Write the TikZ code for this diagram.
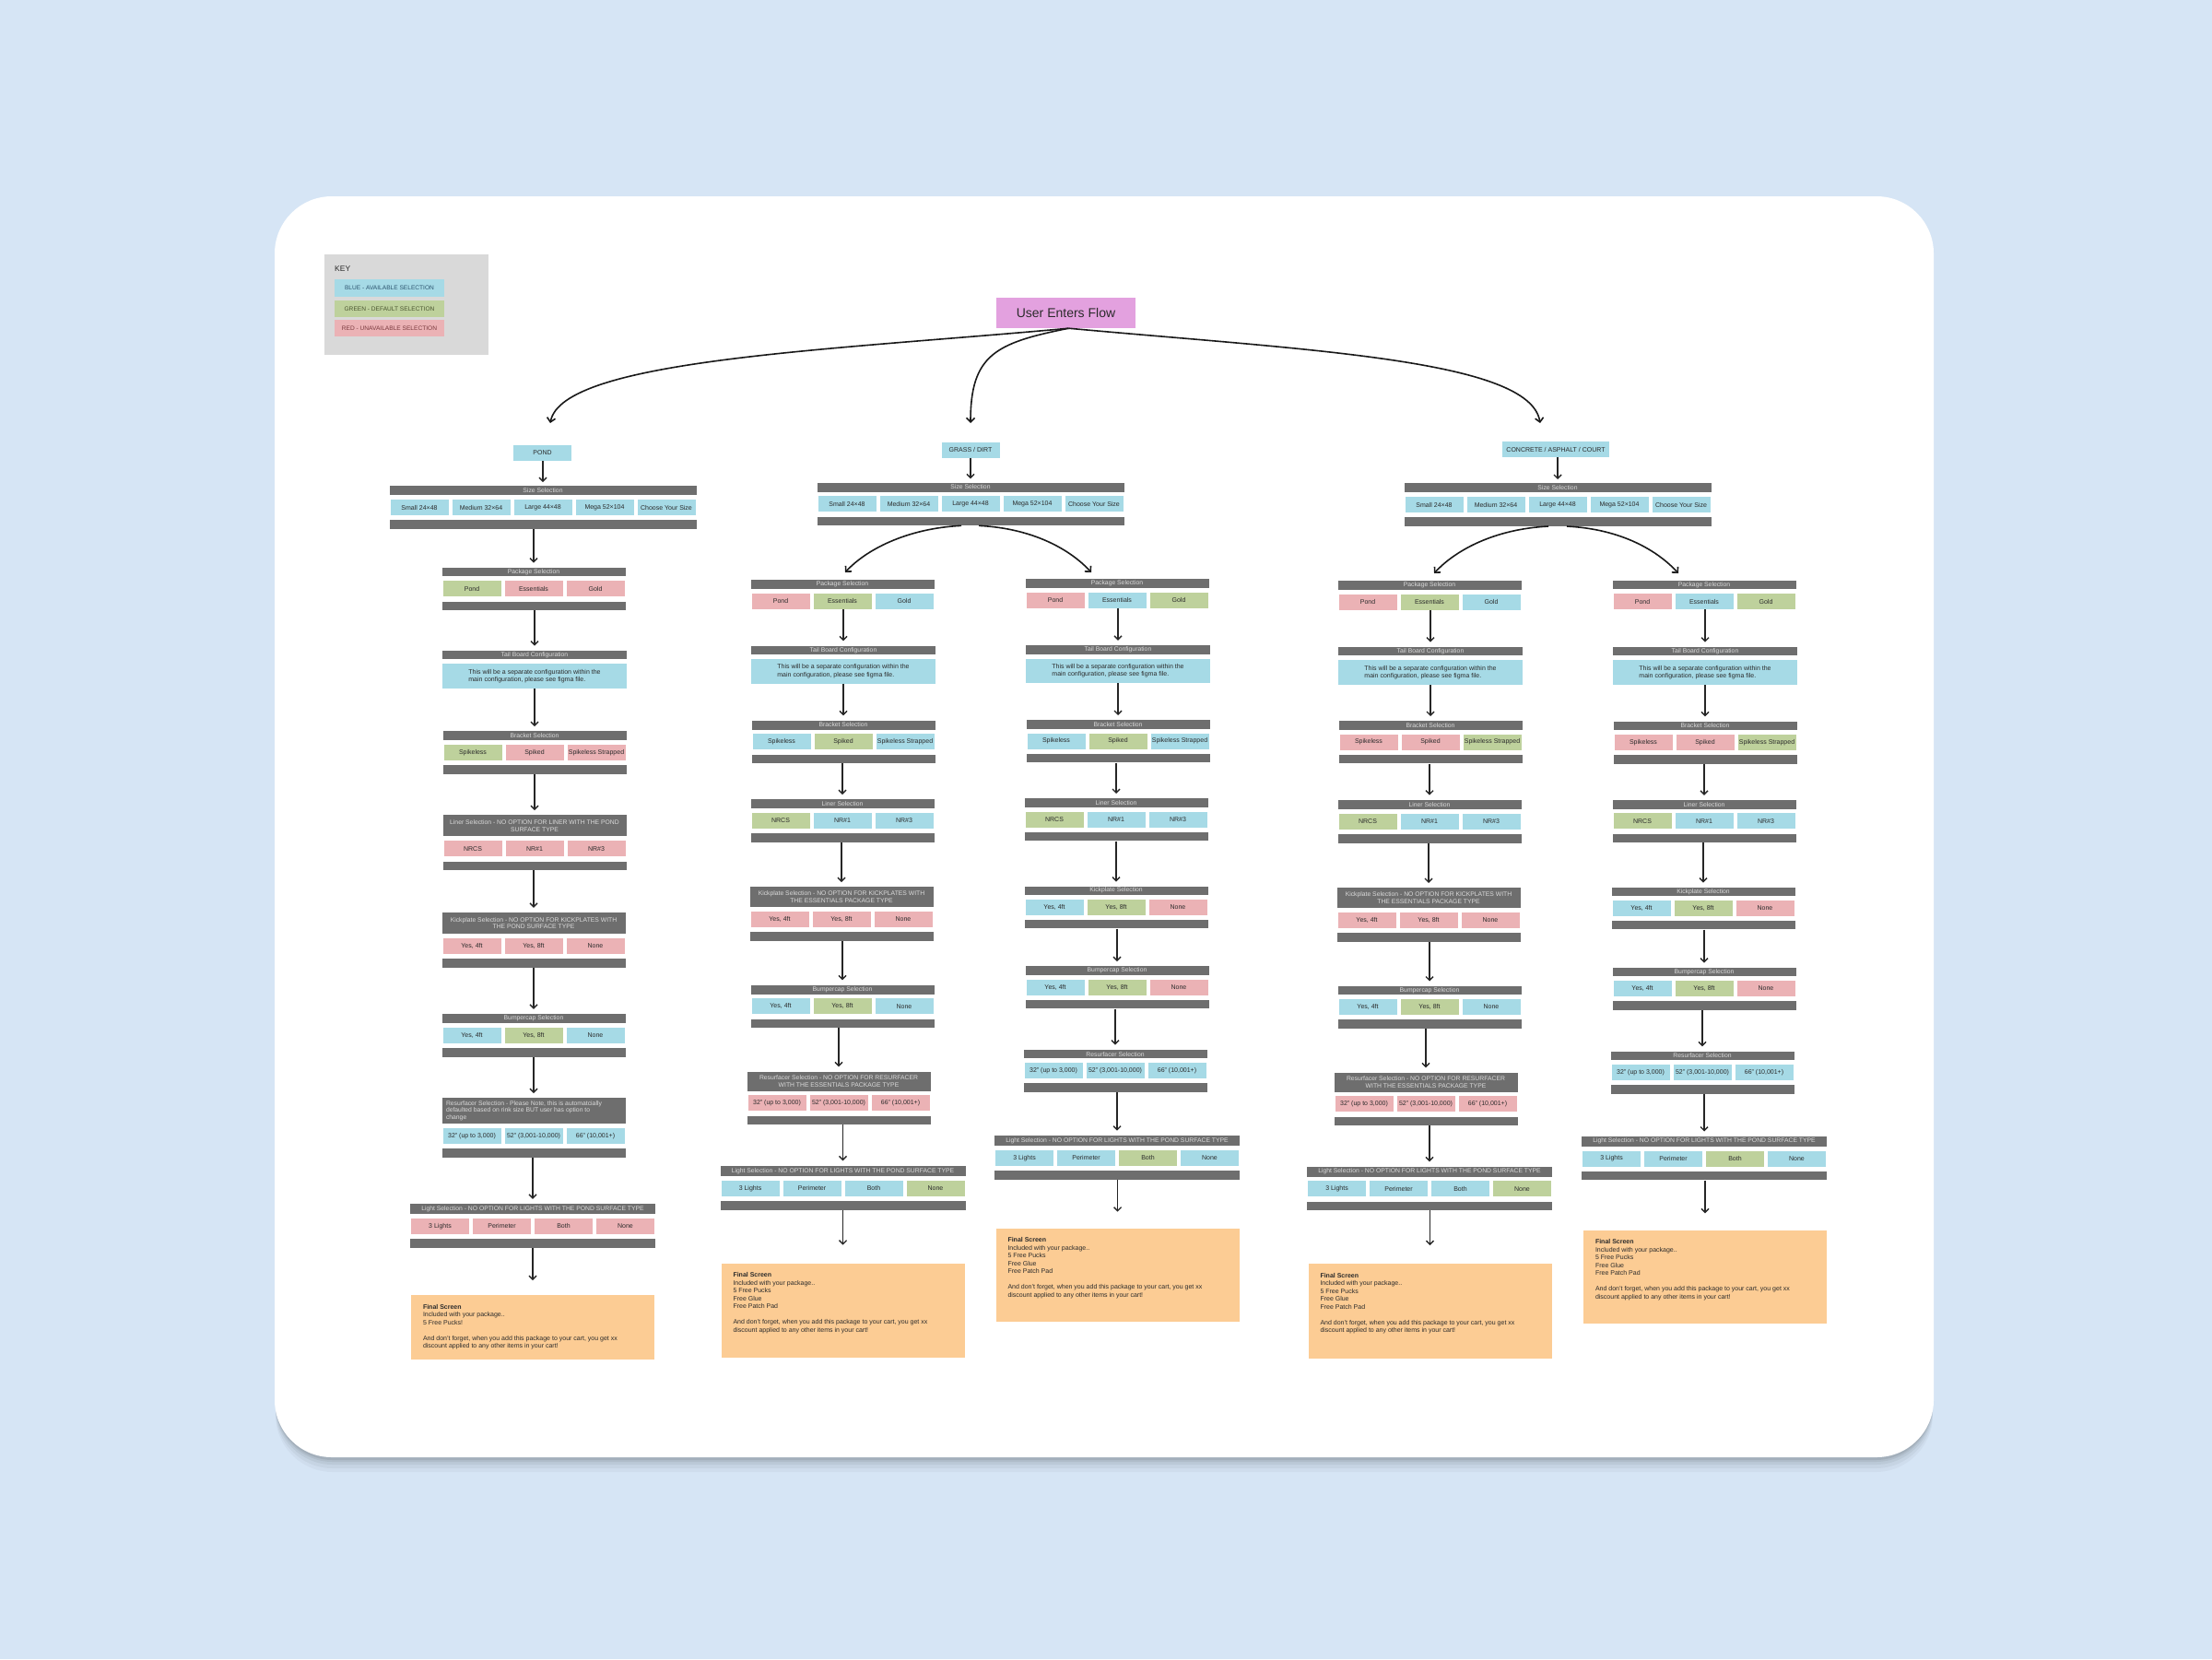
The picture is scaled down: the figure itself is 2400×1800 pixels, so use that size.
\documentclass[tikz,border=0pt]{standalone}
\usepackage{fontspec}
\setmainfont{Liberation Sans}
\usetikzlibrary{arrows.meta,calc}
\definecolor{kBg}{HTML}{D6E5F5}
\definecolor{oB}{HTML}{A6DAE6}
\definecolor{oG}{HTML}{BED19C}
\definecolor{oR}{HTML}{EBB2B5}
\definecolor{kGray}{HTML}{6E6E6E}
\definecolor{kHdrT}{HTML}{DADADA}
\definecolor{kOrange}{HTML}{FCCC94}
\definecolor{kPink}{HTML}{E3A1DF}
\definecolor{kKey}{HTML}{D9D9D9}
\definecolor{kText}{HTML}{2B2B2B}
\definecolor{kBlueT}{HTML}{2E5670}
\definecolor{kGreenT}{HTML}{4A5530}
\definecolor{kRedT}{HTML}{7A3A3E}
\tikzset{
  hdr/.style={fill=kGray, text=kHdrT, font=\fontsize{6.8}{7.8}\selectfont, inner sep=0pt, align=center},
  opt/.style={text=kText, font=\fontsize{7}{8}\selectfont, inner sep=0pt, minimum width=63, minimum height=17},
  bar/.style={fill=kGray, inner sep=0pt, minimum height=9.5},
  tbox/.style={fill=oB, text=kText, font=\fontsize{7}{8.5}\selectfont, inner sep=0pt, align=left, minimum width=200, minimum height=26.5},
  fbox/.style={fill=kOrange, inner sep=0pt, minimum width=264},
  ftext/.style={text=kText, font=\fontsize{7}{8.5}\selectfont, inner sep=0pt, align=left},
  arr/.style={draw=black!85, line width=1.4pt, -{Straight Barb[length=4pt,width=8pt]}},
  carr/.style={draw=black!90, line width=1.6pt, -{Straight Barb[length=4.5pt,width=9pt]}},
  keyopt/.style={inner sep=0pt, minimum width=119, minimum height=18.5, font=\fontsize{6.6}{7.5}\selectfont}
}
\newcommand{\sblk}[8]{%
  \pgfmathsetmacro{\sbW}{#4*67-4}%
  \pgfmathsetmacro{\sbHW}{#4*67-2}%
  \pgfmathsetmacro{\sbOY}{#3+#5+4.8}%
  \pgfmathsetmacro{\sbBY}{\sbOY+17+5.3}%
  \node[hdr, minimum width=\sbHW, minimum height=#5, anchor=north] (#1h) at (#2,#3) {#6};%
  \foreach \sbc/\sbt [count=\sbi] in {#7} {%
    \node[opt, fill=\sbc, anchor=north] (#1\sbi) at ({#2-\sbW/2+31.5+(\sbi-1)*67},\sbOY) {\sbt};%
  }%
  \ifnum#8=1\relax
    \node[bar, minimum width=\sbHW, anchor=north] (#1b) at (#2,\sbBY) {};%
  \fi
}
\newcommand{\tblk}[3]{%
  \node[hdr, minimum width=200, minimum height=9.5, anchor=north] (#1h) at (#2,#3) {Tail Board Configuration};%
  \node[tbox, anchor=north] (#1t) at (#2,#3+14.5) {This will be a separate configuration within the\\main configuration, please see figma file.};%
}
\newcommand{\fblk}[5]{%
  \node[fbox, minimum height=#4, anchor=north] (#1) at (#2,#3) {};%
  \node[ftext, anchor=north west] (#1t) at ([xshift=13pt,yshift=-10pt]#1.north west) {#5};%
}
\newcommand{\conn}[3][5]{\draw[arr] (#3.north |- #2.south) -- ([yshift=#1pt]#3.north);}
\newcommand{\finA}{{\bfseries Final Screen}\\Included with your package..\\5 Free Pucks\\Free Glue\\Free Patch Pad\\[8.5pt]And don't forget, when you add this package to your cart, you get xx\\discount applied to any other items in your cart!}
\newcommand{\finP}{{\bfseries Final Screen}\\Included with your package..\\5 Free Pucks!\\[8.5pt]And don't forget, when you add this package to your cart, you get xx\\discount applied to any other items in your cart!}
\begin{document}
\begin{tikzpicture}[x=1pt,y=-1pt]
\useasboundingbox (0,0) rectangle (2400,1800);
\fill[kBg] (0,0) rectangle (2400,1800);
% card with shadow
\foreach \s/\o in {16/0.03,12/0.04,8/0.05,5/0.06,3/0.07}{
  \fill[black, opacity=\o, rounded corners=62pt] (299,214+\s) rectangle (2097,1581+\s);
}
\fill[white, rounded corners=62pt] (298,213) rectangle (2098,1581);

% key
\node[fill=kKey, minimum width=178, minimum height=109, anchor=north west, inner sep=0pt] (key) at (352,276) {};
\node[anchor=west, font=\fontsize{8.5}{10}\selectfont, text=kText, inner sep=0pt] (keyT) at (363,291.5) {KEY};
\node[keyopt, fill=oB, text=kBlueT] (keyB) at (422.5,312.5) {BLUE - AVAILABLE SELECTION};
\node[keyopt, fill=oG, text=kGreenT] (keyG) at (422.5,335) {GREEN - DEFAULT SELECTION};
\node[keyopt, fill=oR, text=kRedT] (keyR) at (422.5,356) {RED - UNAVAILABLE SELECTION};

% title
\node[fill=kPink, minimum width=151, minimum height=33, inner sep=0pt, font=\fontsize{14}{16}\selectfont, text=kText] (title) at (1156.5,339.5) {User Enters Flow};
\coordinate (pondIn) at (597,459);
\coordinate (grassIn) at (1053,459);
\coordinate (concIn) at (1671,459);
\draw[carr] ([xshift=3pt]title.south) .. controls (900,380) and (610,390) .. (pondIn);
\draw[carr] ([xshift=3pt]title.south) .. controls (1080,372) and (1053,385) .. (grassIn);
\draw[carr] ([xshift=3pt]title.south) .. controls (1420,380) and (1660,390) .. (concIn);

% ---------------- POND ----------------
\node[opt, fill=oB] (pond) at (588.5,491.5) {POND};
\sblk{pS}{589}{527}{5}{10}{Size Selection}{oB/{Small 24×48},oB/{Medium 32×64},oB/{Large 44×48},oB/{Mega 52×104},oB/{Choose Your Size}}{1}
\sblk{pP}{579}{615.7}{3}{9.5}{Package Selection}{oG/Pond,oR/Essentials,oR/Gold}{1}
\tblk{pT}{580}{705.7}
\sblk{pB}{580}{793}{3}{10}{Bracket Selection}{oG/Spikeless,oR/Spiked,oR/{Spikeless Strapped}}{1}
\sblk{pL}{580}{884.2}{3}{23}{Liner Selection - NO OPTION FOR LINER WITH THE POND\\SURFACE TYPE}{oR/NRCS,oR/NR\#1,oR/NR\#3}{1}
\sblk{pK}{579}{989.8}{3}{23}{Kickplate Selection - NO OPTION FOR KICKPLATES WITH\\THE POND SURFACE TYPE}{oR/{Yes, 4ft},oR/{Yes, 8ft},oR/None}{1}
\sblk{pU}{579}{1099.8}{3}{10}{Bumpercap Selection}{oB/{Yes, 4ft},oG/{Yes, 8ft},oB/None}{1}
\sblk{pR}{579}{1191}{3}{28}{\parbox{190pt}{\raggedright Resurfacer Selection - Please Note, this is automatcially\\defaulted based on rink size BUT user has option to\\change}}{oB/{32" (up to 3,000)},oB/{52" (3,001-10,000)},oB/{66" (10,001+)}}{1}
\sblk{pG}{578}{1305.8}{4}{11}{Light Selection - NO OPTION FOR LIGHTS WITH THE POND SURFACE TYPE}{oR/{3 Lights},oR/Perimeter,oR/Both,oR/None}{1}
\fblk{pF}{578}{1405}{70}{\finP}
\conn[4]{pond}{pSh}
\conn{pSb}{pPh}
\conn{pPb}{pTh}
\conn{pTt}{pBh}
\conn{pBb}{pLh}
\conn{pLb}{pKh}
\conn{pKb}{pUh}
\conn{pUb}{pRh}
\conn{pRb}{pGh}
\conn[16]{pGb}{pF}

% ---------------- GRASS / DIRT ----------------
\node[opt, fill=oB] (grass) at (1053,488) {GRASS / DIRT};
\sblk{gS}{1053}{523.3}{5}{10}{Size Selection}{oB/{Small 24×48},oB/{Medium 32×64},oB/{Large 44×48},oB/{Mega 52×104},oB/{Choose Your Size}}{1}
\conn[4]{grass}{gSh}
\coordinate (aIn) at (917,621);
\coordinate (bIn) at (1184,621);
\draw[carr] ([xshift=-10pt]gSb.south) .. controls +(-60,3) and +(22,-24) .. (aIn);
\draw[carr] ([xshift=9pt]gSb.south) .. controls +(60,3) and +(-22,-24) .. (bIn);

% grass left
\sblk{aP}{914}{628.7}{3}{10}{Package Selection}{oR/Pond,oG/Essentials,oB/Gold}{0}
\tblk{aT}{915}{700.3}
\sblk{aB}{915}{781.3}{3}{10}{Bracket Selection}{oB/Spikeless,oG/Spiked,oB/{Spikeless Strapped}}{1}
\sblk{aL}{914}{867}{3}{10}{Liner Selection}{oG/NRCS,oB/NR\#1,oB/NR\#3}{1}
\sblk{aK}{913}{962}{3}{22}{Kickplate Selection - NO OPTION FOR KICKPLATES WITH\\THE ESSENTIALS PACKAGE TYPE}{oR/{Yes, 4ft},oR/{Yes, 8ft},oR/None}{1}
\sblk{aU}{914}{1068.3}{3}{10}{Bumpercap Selection}{oB/{Yes, 4ft},oG/{Yes, 8ft},oB/None}{1}
\sblk{aR}{910}{1162.3}{3}{21}{Resurfacer Selection - NO OPTION FOR RESURFACER\\WITH THE ESSENTIALS PACKAGE TYPE}{oR/{32" (up to 3,000)},oR/{52" (3,001-10,000)},oR/{66" (10,001+)}}{1}
\sblk{aG}{914.5}{1264.3}{4}{11.5}{Light Selection - NO OPTION FOR LIGHTS WITH THE POND SURFACE TYPE}{oB/{3 Lights},oB/Perimeter,oB/Both,oG/None}{1}
\fblk{aF}{914.5}{1370.7}{102.5}{\finA}
\conn{aP2}{aTh}
\conn{aTt}{aBh}
\conn{aBb}{aLh}
\conn{aLb}{aKh}
\conn{aKb}{aUh}
\conn{aUb}{aRh}
\conn{aRb}{aGh}
\conn[20]{aGb}{aF}

% grass right
\sblk{bP}{1212}{628}{3}{9.5}{Package Selection}{oR/Pond,oB/Essentials,oG/Gold}{0}
\tblk{bT}{1213}{699.8}
\sblk{bB}{1213}{781}{3}{9.5}{Bracket Selection}{oB/Spikeless,oG/Spiked,oB/{Spikeless Strapped}}{1}
\sblk{bL}{1211}{866}{3}{9.5}{Liner Selection}{oG/NRCS,oB/NR\#1,oB/NR\#3}{1}
\sblk{bK}{1211}{961.5}{3}{9}{Kickplate Selection}{oB/{Yes, 4ft},oG/{Yes, 8ft},oR/None}{1}
\sblk{bU}{1212}{1048}{3}{9.5}{Bumpercap Selection}{oB/{Yes, 4ft},oG/{Yes, 8ft},oR/None}{1}
\sblk{bR}{1210}{1138.6}{3}{9.5}{Resurfacer Selection}{oB/{32" (up to 3,000)},oB/{52" (3,001-10,000)},oB/{66" (10,001+)}}{1}
\sblk{bG}{1212}{1231.7}{4}{11}{Light Selection - NO OPTION FOR LIGHTS WITH THE POND SURFACE TYPE}{oB/{3 Lights},oB/Perimeter,oG/Both,oB/None}{1}
\fblk{bF}{1212.5}{1332.7}{101.5}{\finA}
\conn{bP2}{bTh}
\conn{bTt}{bBh}
\conn{bBb}{bLh}
\conn{bLb}{bKh}
\conn{bKb}{bUh}
\conn{bUb}{bRh}
\conn{bRb}{bGh}
\conn[18]{bGb}{bF}

% ---------------- CONCRETE ----------------
\node[opt, fill=oB, minimum width=116] (conc) at (1688,487.5) {CONCRETE / ASPHALT / COURT};
\sblk{kS}{1690}{524}{5}{10}{Size Selection}{oB/{Small 24×48},oB/{Medium 32×64},oB/{Large 44×48},oB/{Mega 52×104},oB/{Choose Your Size}}{1}
\conn[4]{conc}{kSh}
\coordinate (cIn) at (1556,622);
\coordinate (dIn) at (1821,622);
\draw[carr] ([xshift=-10pt]kSb.south) .. controls +(-60,3) and +(22,-24) .. (cIn);
\draw[carr] ([xshift=10pt]kSb.south) .. controls +(60,3) and +(-22,-24) .. (dIn);

% concrete left
\sblk{cP}{1551}{630}{3}{9.5}{Package Selection}{oR/Pond,oG/Essentials,oB/Gold}{0}
\tblk{cT}{1552}{701.6}
\sblk{cB}{1552}{782}{3}{9.5}{Bracket Selection}{oR/Spikeless,oR/Spiked,oG/{Spikeless Strapped}}{1}
\sblk{cL}{1551}{867.7}{3}{10}{Liner Selection}{oG/NRCS,oB/NR\#1,oB/NR\#3}{1}
\sblk{cK}{1550}{963}{3}{22}{Kickplate Selection - NO OPTION FOR KICKPLATES WITH\\THE ESSENTIALS PACKAGE TYPE}{oR/{Yes, 4ft},oR/{Yes, 8ft},oR/None}{1}
\sblk{cU}{1551}{1069.5}{3}{9.5}{Bumpercap Selection}{oB/{Yes, 4ft},oG/{Yes, 8ft},oB/None}{1}
\sblk{cR}{1547}{1163.3}{3}{21}{Resurfacer Selection - NO OPTION FOR RESURFACER\\WITH THE ESSENTIALS PACKAGE TYPE}{oR/{32" (up to 3,000)},oR/{52" (3,001-10,000)},oR/{66" (10,001+)}}{1}
\sblk{cG}{1551}{1265.3}{4}{11}{Light Selection - NO OPTION FOR LIGHTS WITH THE POND SURFACE TYPE}{oB/{3 Lights},oB/Perimeter,oB/Both,oG/None}{1}
\fblk{cF}{1551.5}{1371}{103}{\finA}
\conn{cP2}{cTh}
\conn{cTt}{cBh}
\conn{cBb}{cLh}
\conn{cLb}{cKh}
\conn{cKb}{cUh}
\conn{cUb}{cRh}
\conn{cRb}{cGh}
\conn[20]{cGb}{cF}

% concrete right
\sblk{dP}{1849}{629.5}{3}{9.5}{Package Selection}{oR/Pond,oB/Essentials,oG/Gold}{0}
\tblk{dT}{1850}{701.7}
\sblk{dB}{1850}{782.4}{3}{9.5}{Bracket Selection}{oR/Spikeless,oR/Spiked,oG/{Spikeless Strapped}}{1}
\sblk{dL}{1849}{867.8}{3}{9.5}{Liner Selection}{oG/NRCS,oB/NR\#1,oB/NR\#3}{1}
\sblk{dK}{1848}{962.6}{3}{9}{Kickplate Selection}{oB/{Yes, 4ft},oG/{Yes, 8ft},oR/None}{1}
\sblk{dU}{1849}{1049.6}{3}{9.5}{Bumpercap Selection}{oB/{Yes, 4ft},oG/{Yes, 8ft},oR/None}{1}
\sblk{dR}{1847}{1140.3}{3}{9.5}{Resurfacer Selection}{oB/{32" (up to 3,000)},oB/{52" (3,001-10,000)},oB/{66" (10,001+)}}{1}
\sblk{dG}{1849}{1232.5}{4}{11}{Light Selection - NO OPTION FOR LIGHTS WITH THE POND SURFACE TYPE}{oB/{3 Lights},oB/Perimeter,oG/Both,oB/None}{1}
\fblk{dF}{1850}{1334.3}{101.7}{\finA}
\conn{dP2}{dTh}
\conn{dTt}{dBh}
\conn{dBb}{dLh}
\conn{dLb}{dKh}
\conn{dKb}{dUh}
\conn{dUb}{dRh}
\conn{dRb}{dGh}
\conn[18]{dGb}{dF}
\end{tikzpicture}
\end{document}
